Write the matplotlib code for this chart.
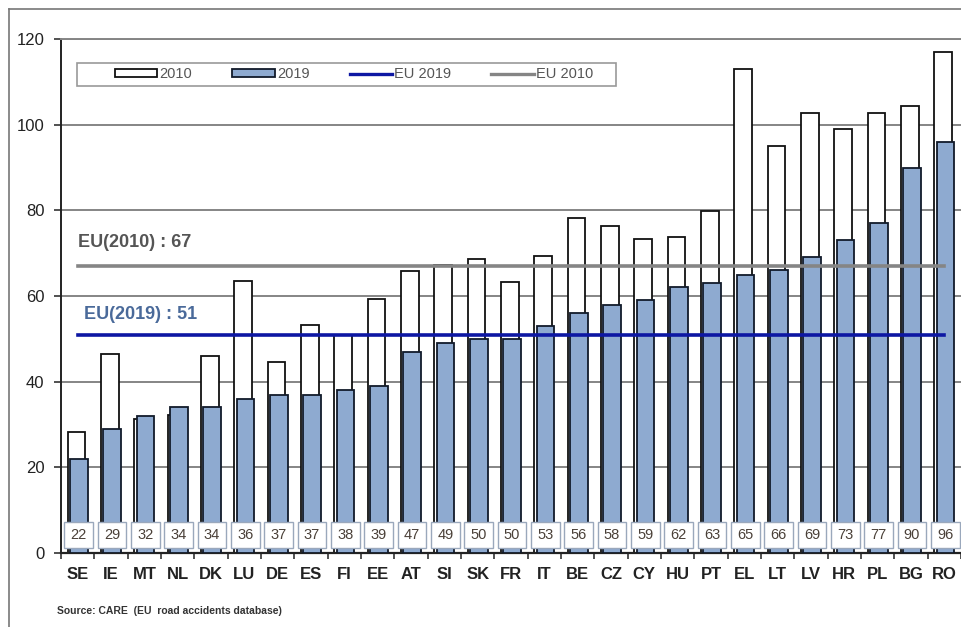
import numpy as np
import matplotlib
matplotlib.use("Agg")
import matplotlib.pyplot as plt
from matplotlib.lines import Line2D
from matplotlib.patches import Patch, Rectangle

plt.rcParams['font.family'] = ['Liberation Sans', 'DejaVu Sans']

countries = ["SE", "IE", "MT", "NL", "DK", "LU", "DE", "ES", "FI", "EE", "AT", "SI", "SK", "FR",
             "IT", "BE", "CZ", "CY", "HU", "PT", "EL", "LT", "LV", "HR", "PL", "BG", "RO"]
deaths_2010 = [28.3, 46.5, 31.3, 32.2, 46.0, 63.5, 44.7, 53.2, 50.8, 59.3, 65.9, 67.2, 68.7, 63.3,
               69.4, 78.3, 76.4, 73.2, 73.7, 79.8, 113.0, 95.0, 102.7, 98.9, 102.7, 104.4, 117.0]
deaths_2019 = [22, 29, 32, 34, 34, 36, 37, 37, 38, 39, 47, 49, 50, 50,
               53, 56, 58, 59, 62, 63, 65, 66, 69, 73, 77, 90, 96]
eu_2010 = 67
eu_2019 = 51

blue_fill = '#8eaad0'
navy = '#0d17a3'
grey = '#858585'

W, H = 961, 627
fig = plt.figure(figsize=(W / 100, H / 100), dpi=100)
ax = fig.add_axes([61 / W, 74 / H, 900 / W, 514 / H])

x = np.arange(len(countries))
w = 0.53

# gridlines
ax.set_ylim(0, 120)
ax.set_xlim(-0.5, len(countries) - 0.5)
ax.set_yticks(np.arange(0, 121, 20))
ax.yaxis.grid(True, color=grey, linewidth=1.4)
ax.set_axisbelow(True)

# bars
ax.bar(x - 0.035, deaths_2010, width=w, color='white', edgecolor='#111111', linewidth=1.3, zorder=2)
ax.bar(x + 0.035, deaths_2019, width=w, color=blue_fill, edgecolor='#111a2a', linewidth=1.3, zorder=3)

# EU average lines
ax.plot([x[0], x[-1]], [eu_2010, eu_2010], color=grey, linewidth=2.6, zorder=4)
ax.plot([x[0], x[-1]], [eu_2019, eu_2019], color=navy, linewidth=2.6, zorder=4)
ax.text(x[0], eu_2010 + 5.6, f"EU(2010) : {eu_2010}", color='#555555', fontsize=13,
        fontweight='bold', va='center', ha='left')
ax.text(x[0] + 0.2, eu_2019 + 4.6, f"EU(2019) : {eu_2019}", color='#4a6a9a', fontsize=13,
        fontweight='bold', va='center', ha='left')

# value boxes
for xi, v in zip(x, deaths_2019):
    ax.text(xi + 0.03, 4.2, f"{v}", ha='center', va='center', fontsize=10.5, color='#4a4038', zorder=5,
            bbox=dict(boxstyle='square,pad=0.42', facecolor='white', edgecolor='#9aa8bc', linewidth=1.0))

# axes styling
ax.set_xticks(x)
ax.set_xticklabels(countries, fontsize=12, fontweight='bold', color='#222222')
ax.tick_params(axis='x', length=0, pad=10)
ax.set_xticks(np.arange(-0.5, len(countries), 1), minor=True)
ax.tick_params(axis='x', which='minor', length=4, width=1.2, color='#333333', direction='out')
ax.tick_params(axis='y', length=5, width=1.2, color='#333333', labelsize=12, labelcolor='#222222', pad=7)
ax.spines['right'].set_visible(False)
ax.spines['top'].set_color(grey)
ax.spines['top'].set_linewidth(1.4)
ax.spines['left'].set_color('#222222')
ax.spines['left'].set_linewidth(1.4)
ax.spines['bottom'].set_color('#222222')
ax.spines['bottom'].set_linewidth(1.6)

# legend (frame drawn separately to match the wide left margin)
ax.add_patch(Rectangle((16 / 900, 1 - 47 / 514), 539 / 900, 23 / 514, transform=ax.transAxes,
                       facecolor='white', edgecolor='#999999', linewidth=1.2, zorder=5))
handles = [Patch(facecolor='white', edgecolor='#111111', linewidth=1.3),
           Patch(facecolor=blue_fill, edgecolor='#111a2a', linewidth=1.3),
           Line2D([0], [0], color=navy, linewidth=2.4),
           Line2D([0], [0], color=grey, linewidth=2.4)]
leg = ax.legend(handles, ["2010", "2019", "EU 2019", "EU 2010"], ncol=4, loc='center left',
                bbox_to_anchor=(54 / 900, 1 - 35.5 / 514), fontsize=10.5, frameon=False,
                handlelength=2.9, handleheight=0.5, handletextpad=0.15, columnspacing=2.75,
                borderpad=0, borderaxespad=0)
leg.set_zorder(6)
for t in leg.get_texts():
    t.set_color('#555555')

# outer frame
fig.add_artist(Line2D([9 / W, 9 / W], [0, 1 - 9 / H], color='#777777', linewidth=1.2))
fig.add_artist(Line2D([9 / W, 1], [1 - 9 / H, 1 - 9 / H], color='#777777', linewidth=1.2))

fig.text(57 / W, 1 - 611 / H, "Source: CARE  (EU  road accidents database)", fontsize=7.5,
         fontweight='bold', color='#333333', va='center')

fig.savefig('out.png', dpi=100)
